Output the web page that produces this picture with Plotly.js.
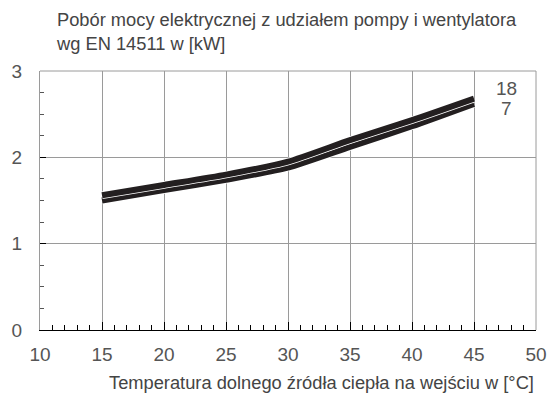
<!DOCTYPE html>
<html>
<head>
<meta charset="utf-8">
<script src="https://cdn.plot.ly/plotly-3.0.1.min.js"></script>
<style>html,body{margin:0;padding:0;background:#fff;}#chart{width:552px;height:401px;}</style>
</head>
<body>
<div id="chart"></div>
<script>
const temps = [15, 20, 25, 30, 35, 40, 45];
const power18 = [1.56, 1.68, 1.80, 1.95, 2.20, 2.43, 2.68];
const power7 = [1.50, 1.62, 1.74, 1.88, 2.12, 2.36, 2.62];
const seriesNames = ['18', '7'];
const titleText = 'Pobór mocy elektrycznej z udziałem pompy i wentylatora<br>wg EN 14511 w [kW]';
const xTitleText = 'Temperatura dolnego źródła ciepła na wejściu w [°C]';

const FONT = 'Liberation Sans, Arial, sans-serif';
const dark = '#231f20';
function pair(y, name) {
  return [
    {x: temps, y: y, mode: 'lines', line: {color: '#ffffff', width: 7.5, shape: 'spline', smoothing: 0.6}, hoverinfo: 'skip', showlegend: false},
    {x: temps, y: y, mode: 'lines', name: name, line: {color: dark, width: 6, shape: 'spline', smoothing: 0.6}, showlegend: false}
  ];
}
const data = [...pair(power7, seriesNames[1]), ...pair(power18, seriesNames[0])];

const layout = {
  width: 552, height: 401,
  margin: {l: 40, r: 16, t: 71, b: 71},
  paper_bgcolor: '#fff', plot_bgcolor: '#fff',
  font: {family: FONT, color: '#555'},
  title: {text: titleText, x: 57/552, xanchor: 'left', xref: 'container', y: 0.935, yanchor: 'top', yref: 'container',
          font: {size: 18.3, color: '#444', family: FONT}},
  xaxis: {
    range: [10, 50], dtick: 5, tick0: 10,
    showgrid: true, gridcolor: '#9a9a9a', gridwidth: 1,
    showline: true, linecolor: '#000', linewidth: 1.3,
    ticks: 'inside', ticklen: 8, tickcolor: '#000',
    tickfont: {size: 19, color: '#555', family: FONT},
    ticklabelstandoff: 7,
    zeroline: false,
    minor: {dtick: 1, ticks: 'inside', ticklen: 5, tickcolor: '#000', showgrid: false}
  },
  yaxis: {
    range: [0, 3], dtick: 1, tick0: 0,
    showgrid: true, gridcolor: '#9a9a9a', gridwidth: 1,
    showline: true, linecolor: '#9a9a9a', linewidth: 1,
    ticks: 'inside', ticklen: 6, tickcolor: '#000',
    tickfont: {size: 19, color: '#555', family: FONT},
    ticklabelstandoff: 13,
    zeroline: false,
    minor: {dtick: 0.25, ticks: 'inside', ticklen: 4, tickcolor: '#555', showgrid: false}
  },
  shapes: [
    {type: 'line', xref: 'paper', yref: 'paper', x0: 0, x1: 1, y0: 1, y1: 1, line: {color: '#9a9a9a', width: 1}},
    {type: 'line', xref: 'paper', yref: 'paper', x0: 1, x1: 1, y0: 0, y1: 1, line: {color: '#9a9a9a', width: 1}}
  ],
  annotations: [
    {text: seriesNames[0], x: 47.6, y: 2.8, xref: 'x', yref: 'y', showarrow: false, font: {size: 19, color: '#555', family: FONT}},
    {text: seriesNames[1], x: 47.6, y: 2.56, xref: 'x', yref: 'y', showarrow: false, font: {size: 19, color: '#555', family: FONT}},
    {text: xTitleText, x: 1, y: -(382 - 330) / (330 - 71), xref: 'paper', yref: 'paper', showarrow: false, xanchor: 'right', yanchor: 'middle',
     font: {size: 18.3, color: '#444', family: FONT}}
  ]
};

Plotly.newPlot('chart', data, layout, {displayModeBar: false, staticPlot: true});
</script>
</body>
</html>
